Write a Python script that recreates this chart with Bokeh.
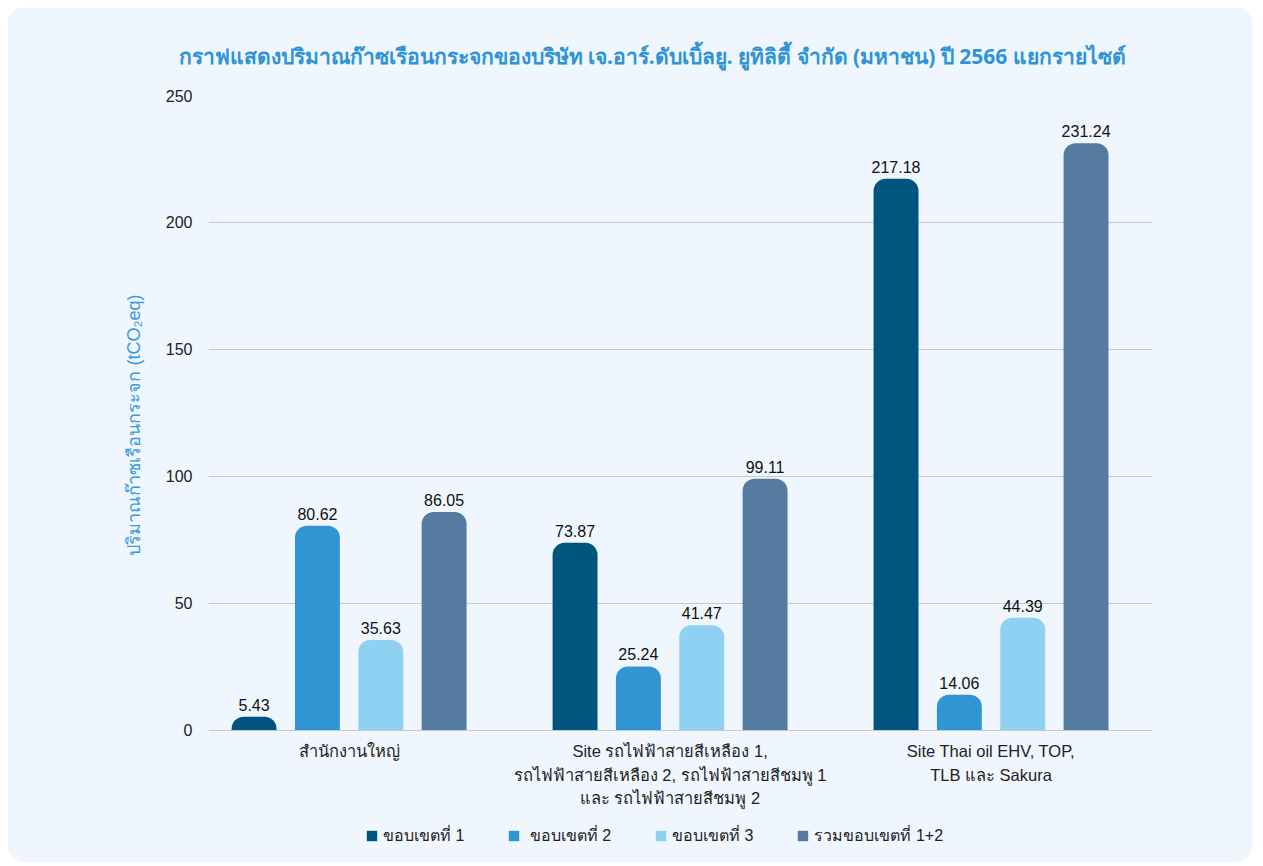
from bokeh.plotting import figure
from bokeh.models import ColumnDataSource, Legend, LegendItem, FixedTicker, Title
from bokeh.transform import dodge
from bokeh.core.properties import value
from bokeh.embed import file_html
from bokeh.resources import INLINE

title_text = "กราฟแสดงปริมาณก๊าซเรือนกระจกของบริษัท เจ.อาร์.ดับเบิ้ลยู. ยูทิลิตี้ จำกัด (มหาชน) ปี 2566 แยกรายไซต์"
y_label = "ปริมาณก๊าซเรือนกระจก (tCO\u2082eq)"
categories = [
    "สำนักงานใหญ่",
    "Site รถไฟฟ้าสายสีเหลือง 1,\nรถไฟฟ้าสายสีเหลือง 2, รถไฟฟ้าสายสีชมพู 1\nและ รถไฟฟ้าสายสีชมพู 2",
    "Site Thai oil EHV, TOP,\nTLB และ Sakura",
]
scope1 = [5.43, 73.87, 217.18]
scope2 = [80.62, 25.24, 14.06]
scope3 = [35.63, 41.47, 44.39]
scope12 = [86.05, 99.11, 231.24]
series_names = ["ขอบเขตที่ 1", " ขอบเขตที่ 2", "ขอบเขตที่ 3", "รวมขอบเขตที่ 1+2"]
series_values = [scope1, scope2, scope3, scope12]
colors = ["#00557F", "#3194D3", "#8FD1F3", "#557CA0"]
y_ticks = [0, 50, 100, 150, 200, 250]

BG = "#EFF6FD"
FONT = "Liberation Sans"

xs = list(range(len(categories)))

p = figure(
    frame_width=944, frame_height=767,
    x_range=(-0.438, 2.503), y_range=(-51.97, 250),
    output_backend="svg", toolbar_location=None,
    min_border_left=201, min_border_right=101,
    min_border_top=88, min_border_bottom=0,
)
p.styles = {"margin-left": "7px", "margin-top": "7px", "border-radius": "18px", "overflow": "hidden"}
p.border_fill_color = BG
p.background_fill_color = BG
p.outline_line_color = None

p.title.text = title_text
p.title.align = "left"
p.title.offset = -30
p.title.standoff = 51
p.title.text_font = "Noto Sans"
p.title.text_font_size = "21px"
p.title.text_font_style = "bold"
p.title.text_color = "#2E94D5"

offsets = [-0.296, -0.0987, 0.0987, 0.296]
bar_w = 0.140
items = []
for name, vals, col, off in zip(series_names, series_values, colors, offsets):
    src = ColumnDataSource(dict(x=xs, v=vals, lab=[f"{v:.2f}" for v in vals]))
    r = p.vbar(x=dodge("x", off), top="v", width=bar_w, source=src,
               fill_color=col, line_color=None, border_radius=(12, 12, 0, 0))
    p.text(x=dodge("x", off), y="v", text="lab", source=src,
           text_align="center", text_baseline="bottom", y_offset=-6,
           text_font=value(FONT), text_font_size="16px", text_color="#111111")
    items.append(LegendItem(label=name, renderers=[r]))

legend = Legend(items=items, orientation="horizontal", location=(157, 14),
                background_fill_alpha=0, border_line_color=None,
                label_text_font=FONT, label_text_font_size="16px",
                label_text_color="#222222", glyph_width=13, glyph_height=13,
                spacing=43, label_standoff=5, margin=0, padding=0)
p.add_layout(legend, "center")

# axes
p.xaxis.fixed_location = 0
p.xaxis.ticker = FixedTicker(ticks=xs)
p.xaxis.major_label_overrides = {i: c for i, c in zip(xs, categories)}
p.xaxis.axis_line_color = "#C8C8C8"
p.xaxis.major_tick_line_color = None
p.xaxis.minor_tick_line_color = None
p.xaxis.major_label_text_font = FONT
p.xaxis.major_label_text_font_size = "16.5px"
p.xaxis.major_label_text_color = "#222222"
p.xaxis.major_label_text_line_height = 1.3
p.xaxis.major_label_standoff = 6

p.yaxis.ticker = FixedTicker(ticks=y_ticks)
p.yaxis.axis_line_color = None
p.yaxis.major_tick_line_color = None
p.yaxis.minor_tick_line_color = None
p.yaxis.major_label_text_font = FONT
p.yaxis.major_label_text_font_size = "16px"
p.yaxis.major_label_text_color = "#222222"
p.yaxis.major_label_standoff = 10

ytitle = Title(text=y_label, align="left", offset=307, standoff=38,
               text_font=FONT, text_font_size="18px", text_font_style="normal",
               text_color="#3A9BDA")
p.add_layout(ytitle, "left")

p.xgrid.grid_line_color = None
p.ygrid.grid_line_color = "#C8C8C8"

open("out.html", "w").write(file_html(p, INLINE))
